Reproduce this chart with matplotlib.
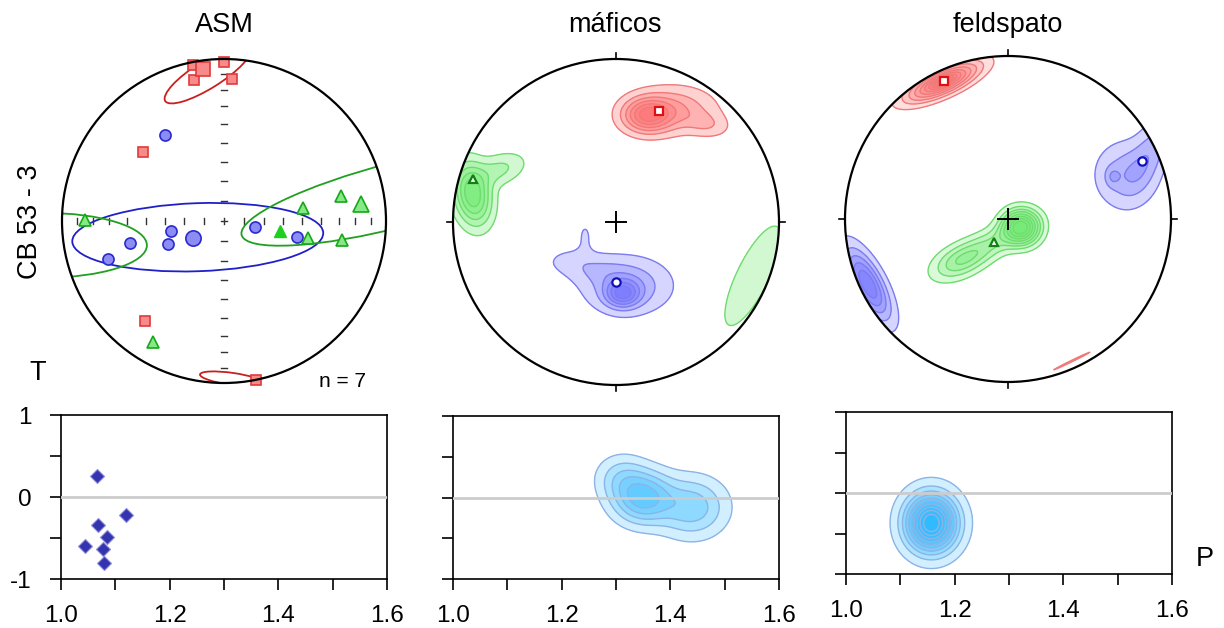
import numpy as np
import matplotlib
matplotlib.use('Agg')
import matplotlib.pyplot as plt
from matplotlib.patches import Circle, Ellipse

plt.rcParams['font.family'] = ['Liberation Sans', 'DejaVu Sans']

W, H = 1224, 628

# ---------------- ASM stereonet (unit-circle projection coords) ----------------
k1_x = [-0.19, 0.00, -0.185, 0.047, -0.503, -0.487, 0.195]
k1_y = [0.965, 0.98, 0.869, 0.875, 0.423, -0.62, -0.98]
k1_mean = (-0.13, 0.936)

k3_x = [-0.363, 0.191, -0.326, -0.579, -0.347, -0.717, 0.452]
k3_y = [0.53, -0.035, -0.062, -0.138, -0.142, -0.234, -0.101]
k3_mean = (-0.189, -0.107)

k2_x = [-0.856, 0.489, 0.721, 0.52, 0.731, -0.439]
k2_y = [0.006, 0.078, 0.156, -0.107, -0.117, -0.747]
k2_solid = (0.345, -0.062)
k2_mean = (0.844, 0.103)

# confidence ellipses: (x, y, width, height, angle)
conf_k1 = [(-0.10, 0.905, 0.62, 0.17, 32), (0.05, -0.975, 0.40, 0.075, -8)]
conf_k3 = [(-0.162, -0.10, 1.55, 0.42, 2)]
conf_k2 = [(1.077, 0.164, 2.0, 0.40, 14.5), (-1.106, -0.15, 1.26, 0.40, 0)]

grid_deg = [10, 20, 30, 40, 50, 60, 70, 80]
n_label = 'n = 7'

# ---------------- density blobs: (x, y, sx, sy, angle, weight) ----------------
maf_red = [(0.19, 0.655, 0.10, 0.07, 0, 1.0), (0.36, 0.69, 0.16, 0.09, 0, 0.5),
           (0.56, 0.60, 0.09, 0.05, -10, 0.25)]
maf_green = [(-0.88, 0.17, 0.07, 0.12, 10, 1.0), (-0.72, 0.32, 0.11, 0.06, 20, 0.3),
             (0.84, -0.33, 0.29, 0.085, 64, 0.2)]
maf_blue = [(0.04, -0.44, 0.07, 0.055, 0, 1.0), (0.07, -0.39, 0.17, 0.11, 0, 0.62),
            (-0.28, -0.24, 0.12, 0.06, 0, 0.2), (-0.12, -0.30, 0.12, 0.06, 0, 0.2),
            (-0.19, -0.08, 0.04, 0.08, 0, 0.17)]
maf_means = {'red': (0.265, 0.678), 'blue': (0.0, -0.367), 'green': (-0.878, 0.263)}

fel_red = [(-0.40, 0.84, 0.16, 0.05, 24, 1.0), (-0.40, 0.845, 0.05, 0.015, 24, 0.5),
           (0.39, -0.872, 0.17, 0.006, 26, 0.14)]
fel_blue = [(0.64, 0.26, 0.03, 0.04, 0, 0.2), (0.72, 0.27, 0.12, 0.13, 0, 0.4),
            (0.88, 0.42, 0.07, 0.16, -25, 0.35), (-0.86, -0.40, 0.16, 0.06, -62, 1.0)]
fel_green = [(0.08, -0.05, 0.075, 0.07, 0, 1.0), (-0.30, -0.26, 0.12, 0.065, 25, 0.35),
             (-0.10, -0.15, 0.16, 0.06, 28, 0.28)]
fel_means = {'red': (-0.392, 0.847), 'blue': (0.822, 0.357), 'green': (-0.086, -0.139)}

# ---------------- P-T diagrams ----------------
asm_P = [1.066, 1.12, 1.068, 1.084, 1.044, 1.078, 1.079]
asm_T = [0.261, -0.216, -0.339, -0.482, -0.592, -0.633, -0.80]
maf_pt = [(1.35, 0.0, 0.035, 0.2, 0, 1.0), (1.44, -0.12, 0.04, 0.23, 0, 0.6),
          (1.31, 0.24, 0.03, 0.18, 0, 0.35)]
fel_pt = [(1.157, -0.37, 0.031, 0.23, 0, 1.0)]

titles = ['ASM', 'máficos', 'feldspato']

fig = plt.figure(figsize=(W / 100, H / 100), dpi=100)


def px_axes(left, top, width, height):
    return fig.add_axes([left / W, 1 - (top + height) / H, width / W, height / H])


def stereo_axes(cx, cy, r):
    pad = 1.12
    ax = px_axes(cx - r * pad, cy - r * pad, 2 * r * pad, 2 * r * pad)
    ax.set_xlim(-pad, pad)
    ax.set_ylim(-pad, pad)
    ax.set_aspect('equal')
    ax.axis('off')
    ax.add_patch(Circle((0, 0), 1, fill=False, ec='black', lw=1.6, zorder=10))
    clip = Circle((0, 0), 1, transform=ax.transData)
    return ax, clip


def density(X, Y, comps):
    Z = np.zeros_like(X)
    for x0, y0, sx, sy, ang, w in comps:
        a = np.radians(ang)
        dx, dy = X - x0, Y - y0
        u = dx * np.cos(a) + dy * np.sin(a)
        v = -dx * np.sin(a) + dy * np.cos(a)
        Z += w * np.exp(-0.5 * ((u / sx) ** 2 + (v / sy) ** 2))
    return Z


def blob(ax, X, Y, comps, levels, fill, edge, alpha, clip=None):
    Z = density(X, Y, comps)
    Z = Z / Z.max()
    for lev in levels:
        cs = ax.contourf(X, Y, Z, levels=[lev, 2], colors=[fill], alpha=alpha, zorder=2)
        if clip is not None:
            cs.set_clip_path(clip)
    cl = ax.contour(X, Y, Z, levels=levels, colors=[edge], linewidths=1.0, zorder=3)
    if clip is not None:
        cl.set_clip_path(clip)


g = np.linspace(-1.05, 1.05, 400)
GX, GY = np.meshgrid(g, g)

RED, RED_E = (1.0, 0.42, 0.42), '#f07a7a'
BLUE, BLUE_E = (0.42, 0.42, 1.0), '#7c7cf0'
GREEN, GREEN_E = (0.42, 0.92, 0.42), '#6fdc6f'

# ---------------- ASM stereonet ----------------
ax, clip = stereo_axes(224, 221, 162)
rr = np.sqrt(2) * np.sin(np.radians(grid_deg) / 2)
for r in rr:
    for s in (-1, 1):
        ax.plot([s * r, s * r], [-0.018, 0.018], color='#333333', lw=1.0)
        ax.plot([-0.018, 0.018], [s * r, s * r], color='#333333', lw=1.0)
ax.plot([-0.018, 0.018], [0, 0], color='#333333', lw=1.0)
ax.plot([0, 0], [-0.018, 0.018], color='#333333', lw=1.0)

for (x, y, w_, h_, a) in conf_k1:
    e = Ellipse((x, y), w_, h_, angle=a, fill=False, ec='#c82020', lw=1.3, zorder=4)
    ax.add_patch(e)
    e.set_clip_path(clip)
for (x, y, w_, h_, a) in conf_k3:
    e = Ellipse((x, y), w_, h_, angle=a, fill=False, ec='#2020c8', lw=1.3, zorder=4)
    ax.add_patch(e)
    e.set_clip_path(clip)
for (x, y, w_, h_, a) in conf_k2:
    e = Ellipse((x, y), w_, h_, angle=a, fill=False, ec='#20a020', lw=1.3, zorder=4)
    ax.add_patch(e)
    e.set_clip_path(clip)

sq = dict(marker='s', ls='none', mfc='#f98a8a', mec='#e03a3a', mew=1.2, zorder=6)
ci = dict(marker='o', ls='none', mfc='#8c8cf2', mec='#2a2ad0', mew=1.2, zorder=6)
tr = dict(marker='^', ls='none', mfc='#86e886', mec='#16a816', mew=1.2, zorder=6)
ax.plot(k1_x, k1_y, ms=7, **sq)
ax.plot(*k1_mean, ms=10, **sq)
ax.plot(k3_x, k3_y, ms=8, **ci)
ax.plot(*k3_mean, ms=11, **ci)
ax.plot(k2_x, k2_y, ms=8, **tr)
ax.plot(*k2_mean, ms=12, **tr)
ax.plot(*k2_solid, marker='^', ms=8, color='#1ed01e', ls='none', zorder=6)
ax.text(0.73, -0.99, n_label, fontsize=15, ha='center', va='center')


def mean_markers(ax, means):
    ax.plot(*means['red'], marker='s', ms=5.5, mfc='white', mec='#e01010', mew=1.6, zorder=8)
    ax.plot(*means['blue'], marker='o', ms=6, mfc='white', mec='#1010c0', mew=1.6, zorder=8)
    ax.plot(*means['green'], marker='^', ms=6, mfc='white', mec='#108010', mew=1.6, zorder=8)


def frame_marks(ax):
    for (a, b) in [((0, 0), (1.0, 1.035)), ((0, 0), (-1.0, -1.035))]:
        ax.plot(a, b, color='black', lw=1.2, zorder=10)
        ax.plot(b, a, color='black', lw=1.2, zorder=10)
    ax.plot([-0.06, 0.06], [0, 0], color='black', lw=1.4, zorder=9)
    ax.plot([0, 0], [-0.06, 0.06], color='black', lw=1.4, zorder=9)


# ---------------- máficos stereonet ----------------
ax, clip = stereo_axes(616, 222, 163)
blob(ax, GX, GY, maf_red, [0.1, 0.25, 0.4, 0.55, 0.7, 0.85], RED, RED_E, 0.3, clip)
blob(ax, GX, GY, maf_green, [0.1, 0.25, 0.42, 0.6, 0.8], GREEN, GREEN_E, 0.3, clip)
blob(ax, GX, GY, maf_blue, [0.1, 0.25, 0.4, 0.55, 0.7, 0.85], BLUE, BLUE_E, 0.28, clip)
mean_markers(ax, maf_means)
frame_marks(ax)

# ---------------- feldspato stereonet ----------------
ax, clip = stereo_axes(1008, 219, 163)
blob(ax, GX, GY, fel_red, [0.07, 0.16, 0.25, 0.34, 0.43, 0.52, 0.62, 0.72, 0.82, 0.92],
     RED, RED_E, 0.22, clip)
blob(ax, GX, GY, fel_blue, [0.12, 0.3, 0.48, 0.66, 0.84], BLUE, BLUE_E, 0.28, clip)
blob(ax, GX, GY, fel_green, [0.08, 0.18, 0.28, 0.38, 0.5, 0.62, 0.74, 0.86],
     GREEN, GREEN_E, 0.25, clip)
mean_markers(ax, fel_means)
frame_marks(ax)

# ---------------- P-T panels ----------------
pbox = [(61, 415, 326, 164), (453, 416, 326, 163), (846, 412, 326, 162)]
pg = np.linspace(1.0, 1.6, 300)
tg = np.linspace(-1.0, 1.0, 300)
PX, TY = np.meshgrid(pg, tg)
PT_FILL, PT_EDGE = (0.1, 0.7, 1.0), '#8cb4e6'

for i, (l, t, w_, h_) in enumerate(pbox):
    ax = px_axes(l, t, w_, h_)
    ax.set_xlim(1.0, 1.6)
    ax.set_ylim(-1, 1)
    ax.axhline(0, color='#cccccc', lw=2, zorder=4)
    ax.set_xticks(np.round(np.arange(1.0, 1.61, 0.1), 1))
    ax.set_xticklabels(['1.0', '', '1.2', '', '1.4', '', '1.6'])
    ax.set_yticks([-1, -0.5, 0, 0.5, 1])
    if i == 0:
        ax.set_yticklabels(['-1', '', '0', '', '1'])
    else:
        ax.set_yticklabels([])
    ax.tick_params(direction='out', length=8, width=1.2, labelsize=17.5)
    ax.tick_params(axis='x', pad=11)
    ax.tick_params(axis='y', pad=13)
    for sp in ax.spines.values():
        sp.set_linewidth(1.2)
    if i == 0:
        ax.plot(asm_P, asm_T, ls='none', marker='D', ms=7, mfc='#3434b0',
                mec='#8a8ad8', mew=0.8, zorder=5)
    elif i == 1:
        blob(ax, PX, TY, maf_pt, [0.1, 0.25, 0.42, 0.6, 0.8], PT_FILL, PT_EDGE, 0.2)
    else:
        blob(ax, PX, TY, fel_pt, [0.05, 0.14, 0.23, 0.32, 0.41, 0.5, 0.6, 0.7, 0.8, 0.9],
             PT_FILL, PT_EDGE, 0.2)

# ---------------- labels ----------------
for x, s in zip([224, 615, 1008], titles):
    fig.text(x / W, 1 - 25 / H, s, fontsize=19.5, ha='center', va='center')
fig.text(30 / W, 1 - 222 / H, 'CB 53 - 3', fontsize=19.5, rotation=90, ha='center', va='center')
fig.text(38 / W, 1 - 373 / H, 'T', fontsize=19.5, ha='center', va='center')
fig.text(1205 / W, 1 - 559 / H, 'P', fontsize=19.5, ha='center', va='center')

fig.savefig('out.png', dpi=100, facecolor='white')
